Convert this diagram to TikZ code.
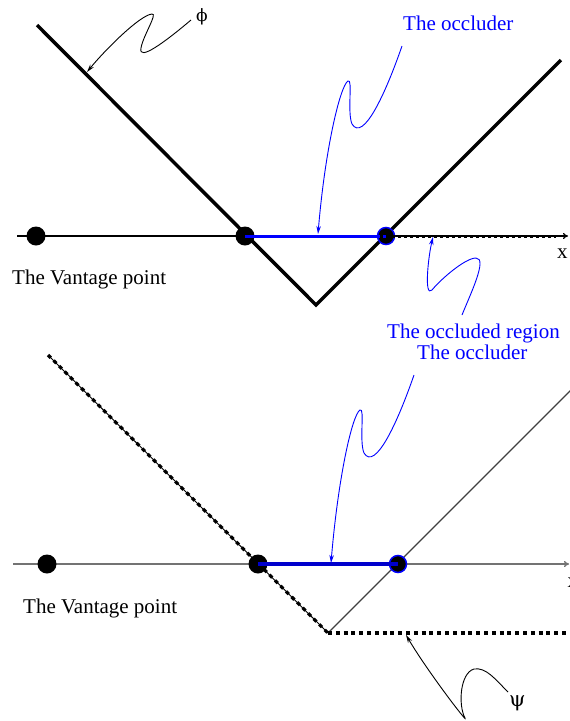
\documentclass[tikz,border=0pt]{standalone}
\usepackage{fontspec}
\setmainfont{Liberation Serif}
\newfontfamily\grk{DejaVu Serif}
\usetikzlibrary{arrows.meta}
\begin{document}
\begin{tikzpicture}[x=1pt,y=-1pt,
  vline/.style={line width=3.5pt},
  dotnode/.style={circle,fill=black,minimum size=19pt,inner sep=0pt},
  squig/.style={line width=0.9pt,-{Stealth[length=8pt,width=4.5pt]}},
  lab/.style={inner sep=0pt,anchor=base west,font=\fontsize{21}{25}\selectfont},
  glab/.style={inner sep=0pt,anchor=base west,font=\grk\fontsize{17}{20}\selectfont},
  dashline/.style={line width=3.2pt,dash pattern=on 4pt off 3.8pt},
]
\useasboundingbox (0,0) rectangle (570,721);
\clip (0,0) rectangle (570,721);

% ---------------- top diagram ----------------
\coordinate (ta0) at (17,236);
\coordinate (ta1) at (568,236);
\draw[line width=1.2pt,-{To[length=5pt,width=6pt]}] (ta0) -- (ta1);
\coordinate (vl) at (37,25);
\coordinate (vb) at (316,305);
\coordinate (vr) at (561,60);
\draw[vline,line join=miter] (vl) -- (vb) -- (vr);
\node[dotnode] (tv) at (36,236) {};
\node[dotnode] (tA) at (245,236) {};
\node[dotnode,draw=blue,line width=1.5pt,minimum size=17pt] (tB) at (386,236) {};
\draw[blue,line width=3pt] (tA.center) -- (tB.center);
\coordinate (tdE) at (556,236);
\draw[line width=3pt,dash pattern=on 3pt off 3pt] ([xshift=-6pt]tB.center) -- (tdE);

\node[lab] (tvp) at (12,284) {The Vantage point};
\node[lab] (tx) at (557,258) {x};
\node[glab] (phi) at (196,21) {ϕ};
\node[lab,text=blue] (tocc) at (403,30) {The occluder};
\node[lab,text=blue] (oreg) at (387,338) {The occluded region};

% squiggles
\coordinate (phiS) at (191,20);
\coordinate (phiE) at (87,72);
\draw[squig] (phiS) .. controls (165,42) and (138,62) .. (141,48)
  .. controls (143,36) and (158,13) .. (152,14)
  .. controls (140,15) and (105,50) .. (phiE);

\coordinate (toS) at (402,46);
\coordinate (toE) at (318,234);
\draw[squig,blue] (toS) .. controls (385,95) and (363,142) .. (352,124)
  .. controls (347,112) and (353,78) .. (348,81)
  .. controls (340,86) and (325,150) .. (toE);

\coordinate (orS) at (462,315);
\coordinate (orE) at (433,237);
\draw[squig,blue] (orS) .. controls (470,295) and (488,258) .. (476,258)
  .. controls (465,258) and (440,280) .. (432,290)
  .. controls (424,298) and (428,258) .. (orE);

% ---------------- bottom diagram ----------------
\coordinate (ba0) at (13,564);
\coordinate (ba1) at (569,564);
\draw[line width=1.4pt,black!55,-{To[length=5pt,width=6pt]}] (ba0) -- (ba1);
\coordinate (dl) at (48,355);
\coordinate (db) at (328,633);
\coordinate (dr) at (566,633);
\coordinate (tr) at (578,383);
\draw[line width=1.1pt,black!75] (db) -- (tr);
\draw[line width=0.9pt] (dl) -- (db);
\draw[dashline] (dl) -- (db);
\draw[dashline] (db) -- (dr);
\node[dotnode] (bv) at (47,564) {};
\node[dotnode] (bA) at (258,564) {};
\node[dotnode,draw=blue,line width=1.5pt,minimum size=17pt] (bB) at (398,564) {};
\draw[blue!80!black,line width=3.5pt] (bA.center) -- (bB.center);

\node[lab] (bvp) at (23,613) {The Vantage point};
\node[lab] (bx) at (567.5,587) {x};
\node[lab,text=blue] (bocc) at (417,359) {The occluder};
\node[glab,font=\grk\fontsize{21}{24}\selectfont] (psi) at (509,706) {ψ};

\coordinate (boS) at (414,375);
\coordinate (boE) at (331,563);
\draw[squig,blue] (boS) .. controls (397,424) and (375,471) .. (364,453)
  .. controls (359,441) and (365,407) .. (360,410)
  .. controls (352,415) and (338,479) .. (boE);

\coordinate (psS) at (508,692);
\coordinate (psE) at (406,635);
\draw[squig] (psS) .. controls (495,679) and (486,667) .. (474,669)
  .. controls (460,673) and (458,705) .. (465,718)
  .. controls (468,724) and (428,672) .. (psE);
\end{tikzpicture}
\end{document}
